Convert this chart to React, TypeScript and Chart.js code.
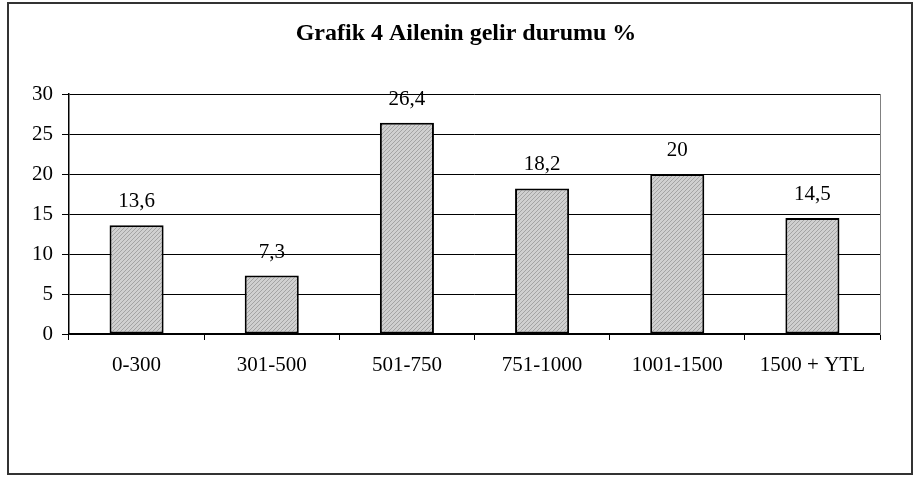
import React, { useEffect, useRef } from "react";
import { Chart, registerables } from "chart.js";

Chart.register(...registerables);

const TITLE = "Grafik 4 Ailenin gelir durumu %";
const categories = ["0-300", "301-500", "501-750", "751-1000", "1001-1500", "1500 + YTL"];
const values = [13.6, 7.3, 26.4, 18.2, 20, 14.5];
const Y_MIN = 0;
const Y_MAX = 30;
const Y_STEP = 5;

const FONT = "'Liberation Serif', 'Times New Roman', Times, serif";

function makePattern(): CanvasPattern | string {
  const c = document.createElement("canvas");
  c.width = 4;
  c.height = 4;
  const g = c.getContext("2d");
  if (!g) return "#bfbfbf";
  g.fillStyle = "#d0d0d0";
  g.fillRect(0, 0, 4, 4);
  g.fillStyle = "#a4a4a4";
  for (let i = 0; i < 4; i++) {
    g.fillRect(i, 3 - i, 1, 1);
  }
  const p = g.createPattern(c, "repeat");
  return p || "#bfbfbf";
}

const titlePlugin = {
  id: "customTitle",
  afterDraw(chart: any) {
    const ctx = chart.ctx;
    ctx.save();
    ctx.font = `bold 24px ${FONT}`;
    ctx.fillStyle = "#000";
    ctx.textAlign = "center";
    ctx.textBaseline = "alphabetic";
    ctx.fillText(TITLE, chart.width / 2 + 7, 40);
    ctx.restore();
  },
};

const valueLabels = {
  id: "valueLabels",
  afterDatasetsDraw(chart: any) {
    const ctx = chart.ctx;
    const meta = chart.getDatasetMeta(0);
    ctx.save();
    ctx.font = `21px ${FONT}`;
    ctx.fillStyle = "#000";
    ctx.textAlign = "center";
    ctx.textBaseline = "alphabetic";
    meta.data.forEach((bar: any, i: number) => {
      ctx.fillText(String(values[i]).replace(".", ","), bar.x, bar.y - 18);
    });
    ctx.restore();
  },
};

export default function App() {
  const ref = useRef<HTMLCanvasElement | null>(null);

  useEffect(() => {
    if (!ref.current) return;
    const chart = new Chart(ref.current, {
      type: "bar",
      data: {
        labels: categories,
        datasets: [
          {
            data: values,
            backgroundColor: makePattern() as any,
            borderColor: "#000",
            borderWidth: 2,
            borderSkipped: false,
            categoryPercentage: 1,
            barPercentage: 0.4,
          },
        ],
      },
      options: {
        animation: false,
        responsive: false,
        devicePixelRatio: 1,
        layout: { padding: { left: 0, right: 38, top: 94, bottom: 0 } },
        plugins: {
          legend: { display: false },
          tooltip: { enabled: false },
          title: { display: false },
        },
        scales: {
          x: {
            grid: {
              offset: true,
              drawOnChartArea: false,
              drawTicks: true,
              tickLength: 6,
              color: "#000",
            },
            border: { display: true, color: "#000", width: 1.5 },
            ticks: {
              color: "#000",
              font: { family: FONT, size: 21 },
              padding: 13,
              maxRotation: 0,
            },
            afterFit: (s: any) => {
              s.height = 145;
            },
          },
          y: {
            min: Y_MIN,
            max: Y_MAX,
            ticks: {
              stepSize: Y_STEP,
              color: "#000",
              font: { family: FONT, size: 21 },
              padding: 9,
            },
            grid: {
              color: "#000",
              lineWidth: 1,
              drawTicks: true,
              tickLength: 7,
            },
            border: { display: true, color: "#000", width: 1.5 },
            afterFit: (s: any) => {
              s.width = 69;
            },
          },
          yRight: {
            position: "right",
            min: Y_MIN,
            max: Y_MAX,
            ticks: { display: false },
            grid: { drawOnChartArea: false, drawTicks: false },
            border: { display: true, color: "#808080", width: 1 },
            afterFit: (s: any) => {
              s.width = 0;
            },
          },
        },
      },
      plugins: [valueLabels, titlePlugin],
    } as any);
    return () => chart.destroy();
  }, []);

  return (
    <div style={{ position: "absolute", left: 0, top: 0, width: 918, height: 479, background: "#fff" }}>
      <div
        style={{
          position: "absolute",
          left: 7,
          top: 2,
          width: 906,
          height: 473,
          border: "2px solid #333",
          boxSizing: "border-box",
        }}
      />
      <canvas
        ref={ref}
        width={918}
        height={479}
        style={{ position: "absolute", left: 0, top: 0, width: 918, height: 479 }}
      />
    </div>
  );
}
